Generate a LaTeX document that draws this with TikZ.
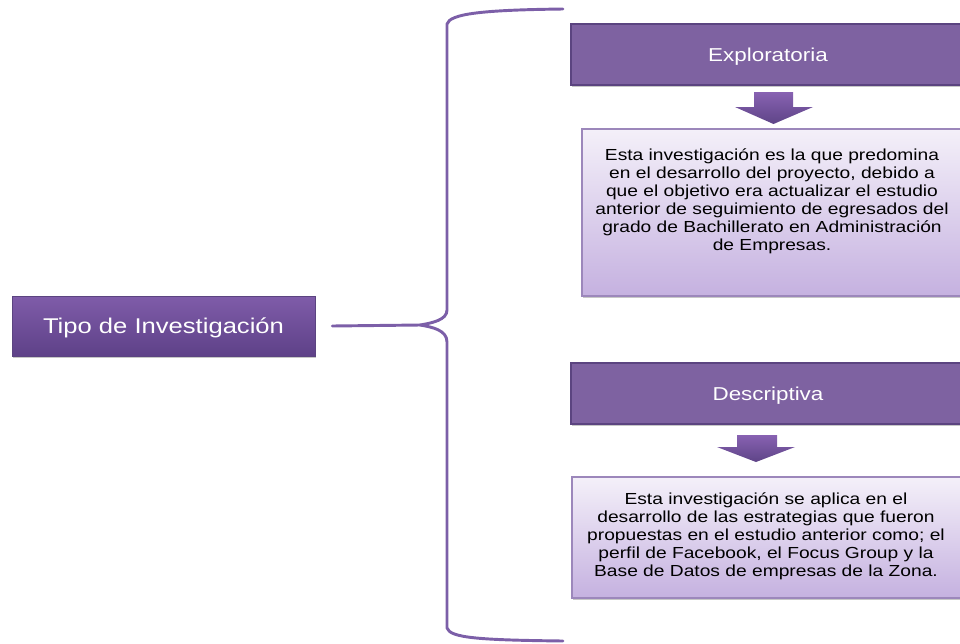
\documentclass[tikz,border=0pt]{standalone}
\usepackage{fontspec}
\setmainfont[FakeStretch=1.2]{Liberation Sans}
\usetikzlibrary{shadows}
\definecolor{hdrfill}{HTML}{7E62A1}
\definecolor{hdrline}{HTML}{5B4480}
\definecolor{maintop}{HTML}{7F5CA9}
\definecolor{mainbot}{HTML}{5E4188}
\definecolor{notetop}{HTML}{F4F0F9}
\definecolor{notebot}{HTML}{C5B1E0}
\definecolor{noteline}{HTML}{9C87BB}
\definecolor{bracecol}{HTML}{7C5FA8}
\definecolor{arrtop}{HTML}{8862B2}
\definecolor{arrbot}{HTML}{5E4487}
\tikzset{
  softshadow/.style={drop shadow={shadow xshift=1pt,shadow yshift=-1.5pt,fill=black,opacity=0.22}},
  mainbox/.style={draw=hdrline,line width=0.6pt,top color=maintop,bottom color=mainbot,
    text=white,inner sep=0pt,text depth=0pt,softshadow,font=\fontsize{16}{19}\selectfont},
  hdrbox/.style={draw=hdrline,line width=1.2pt,fill=hdrfill,text=white,inner sep=0pt,
    text depth=0pt,softshadow,font=\fontsize{14}{17}\selectfont},
  notebox/.style={draw=noteline,line width=0.8pt,top color=notetop,bottom color=notebot,
    inner sep=0pt,softshadow},
  notetext/.style={align=center,inner sep=0pt,text=black,font=\fontsize{12}{13.5}\selectfont},
  downarrow/.style={top color=arrtop,bottom color=arrbot},
  bracepath/.style={draw=bracecol,line width=2.2pt,line cap=round,line join=round},
}
\begin{document}
\begin{tikzpicture}[x=0.75pt,y=-0.75pt]
\useasboundingbox (0,0) rectangle (960,643);
\clip (0,0) rectangle (960,643);

% root box
\node[mainbox,minimum width=227.25pt,minimum height=45pt] (tipo) at (163.5,326) {Tipo de Investigación};

% brace grouping the two research types
\coordinate (tip) at (420,325);
\draw[bracepath] (563,9) .. controls (480,10) and (450,14) .. (447,24)
  -- (447,310) .. controls (447,320) and (432,323) .. (tip)
  .. controls (432,327) and (447,330) .. (447,342)
  -- (447,628) .. controls (450,638) and (480,640) .. (563,641);
\draw[bracepath] ([xshift=12.75pt]tipo.east) -- (tip);

% exploratory branch
\node[hdrbox,minimum width=295.5pt,minimum height=45.75pt] (explo) at (768,54.5) {Exploratoria};
\shade[downarrow] (754,92) -- (793,92) -- (793,107) -- (813,107) -- (773.5,124)
  -- (735,107) -- (754,107) -- cycle;
\node[notebox,minimum width=287.25pt,minimum height=125.25pt] (explonote) at (773.5,212.5) {};
\node[notetext,anchor=north] (explotext) at (772,148.5) {Esta investigación es la que predomina\\
en el desarrollo del proyecto, debido a\\
que el objetivo era actualizar el estudio\\
anterior de seguimiento de egresados del\\
grado de Bachillerato en Administración\\
de Empresas.};

% descriptive branch
\node[hdrbox,minimum width=295.5pt,minimum height=45.75pt] (desc) at (768,393.5) {Descriptiva};
\shade[downarrow] (737,435) -- (777,435) -- (777,447) -- (795,447) -- (756,462)
  -- (717,447) -- (737,447) -- cycle;
\node[notebox,minimum width=294.75pt,minimum height=90.75pt] (descnote) at (768.5,537.5) {};
\node[notetext] (desctext) at (766,536.5) {Esta investigación se aplica en el\\
desarrollo de las estrategias que fueron\\
propuestas en el estudio anterior como; el\\
perfil de Facebook, el Focus Group y la\\
Base de Datos de empresas de la Zona.};
\end{tikzpicture}
\end{document}
